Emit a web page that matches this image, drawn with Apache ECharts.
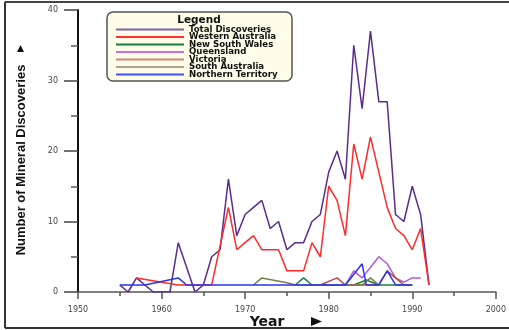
<!DOCTYPE html>
<html>
<head>
<meta charset="utf-8">
<script src="https://cdn.jsdelivr.net/npm/echarts@6/dist/echarts.min.js"></script>
<style>
html,body{margin:0;padding:0;background:#fff;}
#chart{width:509px;height:330px;}
</style>
</head>
<body>
<div id="chart"></div>
<script>
// ---- data (years, values) ----
const seriesNames = ['Total Discoveries','Western Australia','New South Wales','Queensland','Victoria','South Australia','Northern Territory'];
const xTicks = [1950,1960,1970,1980,1990,2000];
const yTicks = [0,10,20,30,40];

const totalYears  = [1955,1956,1957,1958,1959,1961,1962,1964,1965,1966,1967,1968,1969,1970,1971,1972,1973,1974,1975,1976,1977,1978,1979,1980,1981,1982,1983,1984,1985,1986,1987,1988,1989,1990,1991,1992];
const totalValues = [1,0,2,1,0,0,7,0,1,5,6,16,8,11,12,13,9,10,6,7,7,10,11,17,20,16,35,26,37,27,27,11,10,15,11,1];

const waYears  = [1957,1962,1966,1968,1969,1970,1971,1972,1974,1975,1977,1978,1979,1980,1981,1982,1983,1984,1985,1986,1987,1988,1989,1990,1991,1992];
const waValues = [2,1,1,12,6,7,8,6,6,3,3,7,5,15,13,8,21,16,22,17,12,9,8,6,9,1];

const nswYears  = [1976,1977,1978,1983,1984.5,1986,1988,1990];
const nswValues = [1,2,1,1,1.7,1,1,1];

const qldYears  = [1982,1983,1984,1986,1987,1988,1989,1990,1991];
const qldValues = [1,3,2,5,4,2,1.4,2,2];

const vicYears  = [1979,1981,1982,1986,1987,1988,1989,1990];
const vicValues = [1,2,1,1,3,2,1,1];

const saYears  = [1971,1972,1975,1976,1984,1985,1986];
const saValues = [1,2,1.3,1,1,2,1];

const ntYears  = [1955,1958,1960,1962,1963,1982,1984,1984.5,1986,1987,1988,1990];
const ntValues = [1,1,1.5,2,1,1,4,1,1,3,1,1];

const lineColors   = ['#5a2d8c','#ff2a2a','#1a8040','#b455e0','#b84a40','#7d7d45','#2a35f0'];
const legendColors = ['#8060a8','#ff3030','#108040','#c070e0','#d08878','#a8a888','#4050ff'];

const allYears  = [totalYears, waYears, nswYears, qldYears, vicYears, saYears, ntYears];
const allValues = [totalValues, waValues, nswValues, qldValues, vicValues, saValues, ntValues];

function pairs(xs, ys){ return xs.map((x,i)=>[x, ys[i]]); }

const chart = echarts.init(document.getElementById('chart'), null, {renderer:'canvas'});

const series = seriesNames.map((name,i)=>({
  name: name,
  type: 'line',
  data: pairs(allYears[i], allValues[i]),
  symbol: 'none',
  lineStyle: {color: lineColors[i], width: 1.5},
  itemStyle: {color: lineColors[i]},
  z: 2 + i,
  animation: false
}));

const labelFont = {fontFamily: 'DejaVu Sans', fontSize: 8, color: '#444'};

chart.setOption({
  animation: false,
  backgroundColor: '#fff',
  grid: {left: 78, right: 11, top: 10, bottom: 38},
  xAxis: {
    type: 'value', min: xTicks[0], max: xTicks[xTicks.length-1], interval: 10,
    axisLine: {show: true, lineStyle: {color: '#555', width: 1.5}},
    axisTick: {show: true, length: 7, lineStyle: {color: '#555', width: 1.5}},
    minorTick: {show: true, splitNumber: 2, length: 4, lineStyle: {color: '#555', width: 1.5}},
    splitLine: {show: false},
    axisLabel: Object.assign({margin: 14, formatter: v => String(v)}, labelFont)
  },
  yAxis: {
    type: 'value', min: yTicks[0], max: yTicks[yTicks.length-1], interval: 10,
    axisLine: {show: true, lineStyle: {color: '#111', width: 2}},
    axisTick: {show: true, length: 14, lineStyle: {color: '#444', width: 1.5}},
    minorTick: {show: true, splitNumber: 2, length: 7, lineStyle: {color: '#555', width: 1.5}},
    splitLine: {show: false},
    axisLabel: Object.assign({margin: 20, formatter: v => String(v)}, labelFont)
  },
  legend: {
    orient: 'vertical',
    left: 116, top: 25,
    icon: 'rect',
    itemWidth: 68, itemHeight: 2, itemGap: -1.5,
    padding: 0,
    selectedMode: false,
    textStyle: {fontFamily: 'DejaVu Sans', fontWeight: 'bold', fontSize: 8.6, lineHeight: 7.5, color: '#111'},
    data: seriesNames.map((n,i)=>({name: n, itemStyle: {color: legendColors[i]}}))
  },
  graphic: [
    {type: 'rect', z: 0, shape: {x: 107, y: 12, width: 185, height: 69, r: 6},
     style: {fill: '#fffde9', stroke: '#555', lineWidth: 1.5}},
    {type: 'text', z: 10, x: 199, y: 20.5,
     style: {text: 'Legend', fontFamily: 'DejaVu Sans', fontWeight: 'bold', fontSize: 10.5, fill: '#111', align: 'center', verticalAlign: 'middle'}},
    {type: 'text', z: 10, x: 21, y: 160, rotation: Math.PI/2,
     style: {text: 'Number of Mineral Discoveries', fontFamily: "'Liberation Sans Narrow', 'Liberation Sans', sans-serif", fontWeight: 'bold', fontSize: 13, fill: '#111', align: 'center', verticalAlign: 'middle'}},
    {type: 'polygon', z: 10, shape: {points: [[17,52],[20.5,45],[24,52]]}, style: {fill: '#111'}},
    {type: 'text', z: 10, x: 267, y: 322,
     style: {text: 'Year', fontFamily: 'DejaVu Sans', fontWeight: 'bold', fontSize: 14, fill: '#111', align: 'center', verticalAlign: 'middle'}},
    {type: 'polygon', z: 10, shape: {points: [[311,317],[322,321.5],[311,326]]}, style: {fill: '#111'}},
    {type: 'line', z: 10, shape: {x1: 5, y1: 2, x2: 509, y2: 2}, style: {stroke: '#444', lineWidth: 2}},
    {type: 'line', z: 10, shape: {x1: 5, y1: 2, x2: 5, y2: 328}, style: {stroke: '#333', lineWidth: 2}},
    {type: 'line', z: 10, shape: {x1: 5, y1: 328, x2: 509, y2: 328}, style: {stroke: '#333', lineWidth: 2}}
  ],
  series: series
});
</script>
</body>
</html>
